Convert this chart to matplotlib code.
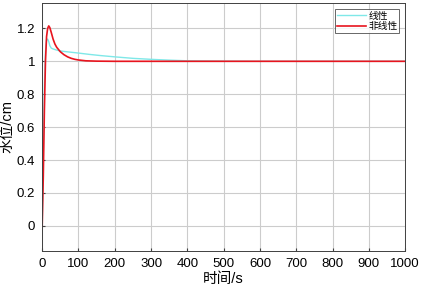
import matplotlib.pyplot as plt

plt.rcParams['font.family'] = ['Liberation Sans', 'Noto Sans CJK SC', 'DejaVu Sans']

# values
t_lin = [0, 3, 6, 9, 12, 15, 18, 21, 25, 30, 40, 50, 60, 80, 100, 130, 160, 200, 250, 300, 350, 400, 500, 600, 800, 1000]
h_lin = [0, 0.45, 0.85, 1.06, 1.13, 1.135, 1.12, 1.095, 1.08, 1.075, 1.068, 1.063, 1.06, 1.055, 1.05, 1.042, 1.035, 1.027, 1.018, 1.012, 1.007, 1.003, 1.001, 1.0, 1.0, 1.0]

t_nl = [0, 3, 6, 9, 12, 15, 18, 21, 25, 30, 35, 40, 50, 60, 70, 80, 90, 100, 120, 150, 200, 300, 500, 1000]
h_nl = [0, 0.3, 0.7, 1.0, 1.15, 1.2, 1.215, 1.205, 1.175, 1.135, 1.105, 1.085, 1.058, 1.04, 1.027, 1.018, 1.012, 1.008, 1.003, 1.001, 1.0, 1.0, 1.0, 1.0]

fig = plt.figure(figsize=(4.22, 2.88), dpi=100)
ax = fig.add_axes([0.1, 0.13, 0.86, 0.86])

ax.plot(t_lin, h_lin, color='#7fe8e8', linewidth=1.0, label='线性')
ax.plot(t_nl, h_nl, color='#e8141e', linewidth=1.2, label='非线性')

ax.set_xlim(0, 1000)
ax.set_ylim(-0.15, 1.355)
ax.set_xticks(range(0, 1001, 100))
ax.set_yticks([0, 0.2, 0.4, 0.6, 0.8, 1, 1.2])
ax.set_yticklabels(['0', '0.2', '0.4', '0.6', '0.8', '1', '1.2'])
ax.grid(True, color='#cccccc', linewidth=0.8)
ax.tick_params(direction='in', labelsize=9.5, length=2, pad=5, color='#404040')
for s in ax.spines.values():
    s.set_color('#404040')
    s.set_linewidth(0.7)

ax.set_xlabel('时间/s', fontsize=10.5, labelpad=2)
ax.set_ylabel('水位/cm', fontsize=10.5, labelpad=2)

leg = ax.legend(loc='upper right', fontsize=7, frameon=True, fancybox=False,
                edgecolor='#404040', handlelength=3.0, borderpad=0.2,
                labelspacing=0.05, handletextpad=0.2, borderaxespad=0.6)
leg.get_frame().set_linewidth(0.7)

fig.savefig('out.png', dpi=100)
